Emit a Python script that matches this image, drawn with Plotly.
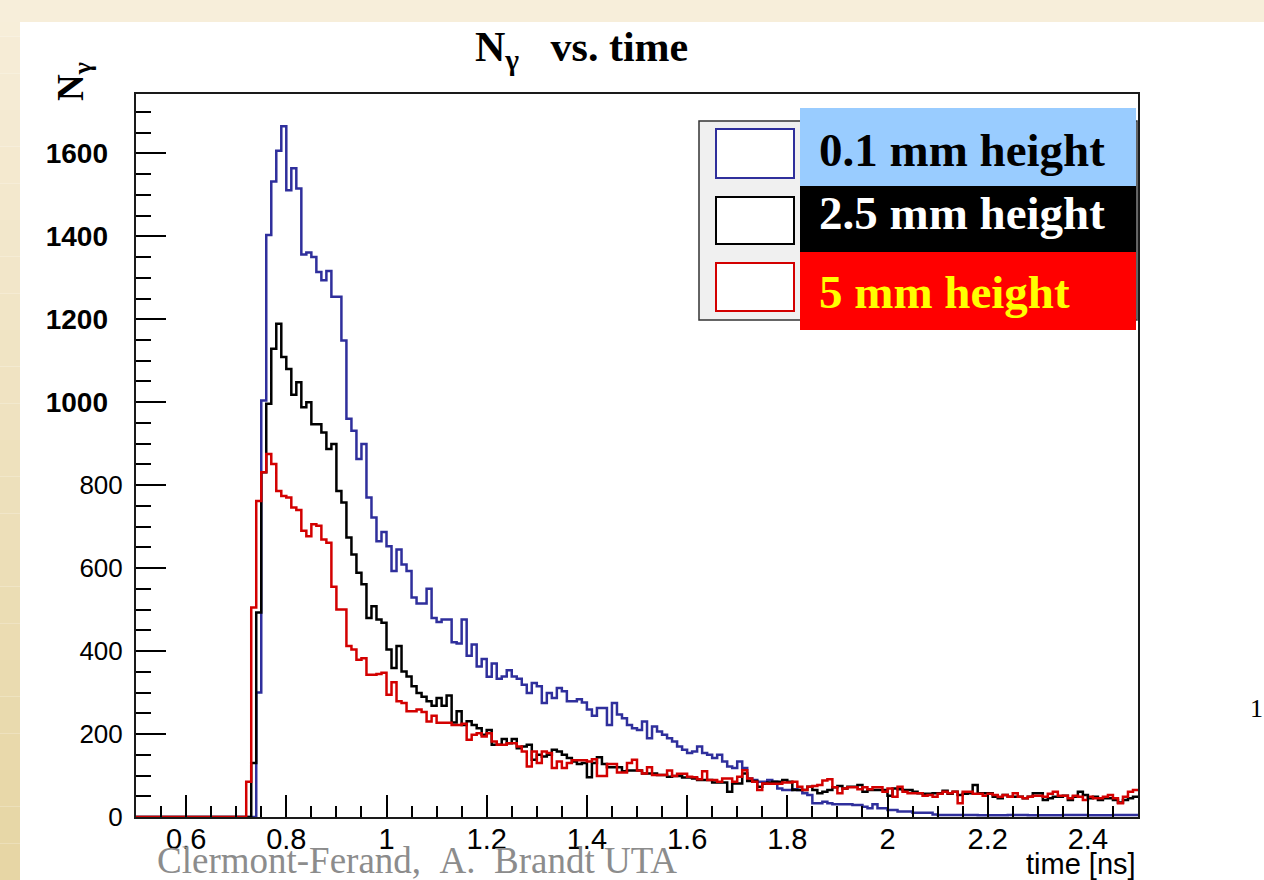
import plotly.graph_objects as go

# ---------------- data (200 bins, 0.5 .. 2.5 ns, width 0.01 ns) ----------------
bin_edges_start = 0.5
bin_width = 0.01
n_bins = 200

blue_01mm = [0] * 24 + [
    300, 1004, 1403, 1532, 1606, 1665, 1511, 1564, 1515, 1356, 1361, 1350, 1314, 1294, 1316, 1254, 1254,
    1149, 960, 931, 863, 899,
    770, 722, 665, 687, 653, 593, 645, 609, 593, 529, 515, 515, 550, 480, 470, 476, 476, 421, 418, 476,
    389, 416, 363, 381, 338, 370, 333, 339, 354, 339, 333, 319, 299, 323, 315, 275, 299, 287, 311, 303, 279,
    279, 284, 276, 259, 244, 263, 263, 222, 275, 247, 238, 222, 214, 210, 230, 190, 218, 206, 198, 190,
    182, 170, 162, 154, 158, 170, 154, 150, 142, 150, 134, 122, 118, 134, 118, 93, 89, 85, 85, 89, 85,
    69, 65, 65, 67, 65, 57, 53,
    33, 33, 37, 33, 31, 31, 31, 31, 29, 29, 25, 21, 31, 21, 21, 17, 17, 13, 13, 13, 10, 10, 10, 10, 6,
    5, 5, 5, 5, 5, 5, 5, 5, 4, 4, 4, 4, 4, 4, 5, 5, 5, 5, 4, 4, 4, 4, 4, 4, 4, 5, 5, 5, 5, 5, 4, 4, 4,
    4, 4, 5, 5, 5, 5, 5,
]

black_25mm = [0] * 23 + [
    130, 493, 831, 996, 1129, 1189, 1109, 1080, 1018, 1048, 988, 1000, 947, 947, 927, 887, 899, 786, 758,
    674, 633, 589,
    561, 480, 508, 476, 468, 404, 359, 412, 351, 339, 315, 299, 290, 279, 268, 287, 268, 293, 228, 255,
    222, 231, 222, 214, 198, 210, 174, 174, 188, 178, 188, 166, 170, 174, 138, 150, 146, 150, 162, 158,
    150, 142,
    134, 128, 130, 96, 130, 144, 128, 120, 120, 120, 110, 112, 112, 112, 105, 105, 105, 101, 101, 97,
    99, 99, 95, 95, 93, 89, 89, 89, 83, 83, 83, 61, 81, 81, 105, 87, 87, 73, 80, 83, 85, 85, 89, 85,
    65, 65, 65, 73,
    65, 57, 61, 65, 72, 75, 69, 73, 73, 77, 61, 65, 65, 65, 65, 51, 69, 67, 65, 65, 61, 57, 56, 56, 57,
    57, 63, 56, 61, 53, 56, 57, 77, 57, 57, 57, 49, 45, 53, 49, 49, 49, 45, 49, 57, 57, 41, 45, 49, 49,
    51, 41, 49, 61, 53, 45, 49, 41, 45, 45, 41, 35, 41, 45, 49,
]

red_5mm = [0] * 22 + [
    85, 505, 762, 831, 875, 851, 786, 774, 770, 746, 740, 690, 677, 706, 702, 669, 661, 555, 500, 500,
    412, 404, 379,
    383, 343, 343, 345, 348, 295, 325, 279, 275, 255, 255, 259, 253, 230, 244, 227, 227, 227, 222, 222,
    225, 186, 198, 202, 194, 202, 182, 174, 174, 178, 178, 170, 158, 122, 158, 130, 158, 154, 118, 134,
    118, 130,
    137, 137, 137, 134, 139, 99, 99, 128, 128, 107, 107, 130, 138, 112, 105, 120, 101, 101, 101, 112,
    99, 104, 104, 97, 96, 91, 110, 89, 89, 85, 93, 93, 85, 97, 113, 93, 85, 65, 81, 80, 80, 80, 83, 83,
    85, 73, 65, 73,
    75, 77, 88, 91, 72, 57, 69, 72, 72, 67, 72, 67, 72, 72, 61, 69, 49, 73, 61, 57, 57, 57, 51, 53, 49,
    56, 61, 57, 61, 33, 61, 61, 56, 56, 51, 56, 53, 49, 53, 49, 57, 49, 45, 49, 51, 51, 49, 56, 61, 51,
    51, 45, 51, 49, 41, 49, 45, 45, 49, 53, 45, 33, 49, 61, 65,
]

series_names = ["0.1 mm height", "2.5 mm height", "5 mm height"]
y_tick_values = [0, 200, 400, 600, 800, 1000, 1200, 1400, 1600]
y_regular_labels = ["0", "200", "400", "600", "800", " ", " ", " ", " "]
y_bold_values = [1000, 1200, 1400, 1600]
y_bold_labels = ["1000", "1200", "1400", "1600"]

edges = [round(bin_edges_start + i * bin_width, 4) for i in range(n_bins + 1)]

# ---------------- layout geometry (pixels) ----------------
W, H = 1264, 880
PL, PR, PT, PB = 136, 1138, 94, 817   # plot area box
pw, ph = PR - PL, PB - PT


def px(x):
    return (x - PL) / pw


def py(y):
    return (PB - y) / ph


def step_y(vals):
    return list(vals) + [vals[-1]]


fig = go.Figure()
colors = ["#2F2F9C", "#000000", "#D30000"]
for vals, name, col, yax in zip([blue_01mm, black_25mm, red_5mm], series_names, colors, ["y", "y", "y2"]):
    fig.add_trace(go.Scatter(
        x=edges, y=step_y(vals), mode="lines", line=dict(color=col, width=2.5, shape="hv"),
        name=name, showlegend=False, yaxis=yax, hoverinfo="skip",
    ))

YMAX = 1743
sans = "Liberation Sans, Arial, sans-serif"
serif = "Liberation Serif, Times New Roman, serif"

fig.update_layout(
    width=W, height=H,
    margin=dict(l=PL, r=W - PR, t=PT, b=H - PB, autoexpand=False),
    paper_bgcolor="white", plot_bgcolor="white",
    showlegend=False,
    xaxis=dict(
        range=[0.5, 2.5], showgrid=False, zeroline=False, automargin=False,
        showline=True, mirror=True, linecolor="#1a1a1a", linewidth=2,
        ticks="inside", ticklen=22, tickwidth=1.5, tickcolor="black",
        tick0=0, dtick=0.2, tickfont=dict(family=sans, size=29, color="black"),
        ticklabelstandoff=-5,
        minor=dict(ticks="inside", ticklen=11, dtick=0.05, tick0=0, tickwidth=1.5, tickcolor="black", showgrid=False),
    ),
    yaxis=dict(
        range=[0, YMAX], showgrid=False, zeroline=False, automargin=False,
        showline=True, mirror=True, linecolor="#1a1a1a", linewidth=2,
        ticks="inside", ticklen=30, tickwidth=1.5, tickcolor="black",
        tickmode="array", tickvals=y_tick_values, ticktext=y_regular_labels,
        tickfont=dict(family=sans, size=26, color="black"), ticklabelstandoff=6,
        minor=dict(ticks="inside", ticklen=15, dtick=50, tick0=0, tickwidth=1.5, tickcolor="black", showgrid=False),
    ),
    yaxis2=dict(
        range=[0, YMAX], overlaying="y", anchor="x", side="left", showgrid=False, zeroline=False,
        showline=False, ticks="", automargin=False,
        tickmode="array", tickvals=y_bold_values, ticktext=["<b>%s</b>" % t for t in y_bold_labels],
        tickfont=dict(family=sans, size=28, color="black"),
        ticklabelstandoff=27,
    ),
)

shapes = []
# slide background strips (beige) – left and top
n_sl = 24
for i in range(n_sl):
    t = i / (n_sl - 1)
    r = int(247 - 16 * t); g = int(238 - 24 * t); b = int(217 - 52 * t)
    y0 = H * i / n_sl; y1 = H * (i + 1) / n_sl
    shapes.append(dict(type="rect", xref="paper", yref="paper", x0=px(0), x1=px(20), y0=py(y1), y1=py(y0),
                       fillcolor="rgb(%d,%d,%d)" % (r, g, b), line=dict(width=0), layer="above"))
shapes.append(dict(type="rect", xref="paper", yref="paper", x0=px(0), x1=px(W), y0=py(22), y1=py(0),
                   fillcolor="#F7EEDA", line=dict(width=0), layer="above"))

# legend box
shapes.append(dict(type="rect", xref="paper", yref="paper", x0=px(699), x1=px(1137), y0=py(320), y1=py(121),
                   fillcolor="#F0F0F0", line=dict(color="#333333", width=1.5), layer="above"))
marker_rows = [(129, 178), (197, 244), (263, 311)]
for (ya, yb), col in zip(marker_rows, colors):
    shapes.append(dict(type="rect", xref="paper", yref="paper", x0=px(716), x1=px(794), y0=py(yb), y1=py(ya),
                       fillcolor="white", line=dict(color=col, width=2), layer="above"))
# coloured label boxes
box_rows = [(108, 186, "#99CCFF"), (186, 252, "#000000"), (252, 330, "#FF0000")]
for ya, yb, fc in box_rows:
    shapes.append(dict(type="rect", xref="paper", yref="paper", x0=px(800), x1=px(1136), y0=py(yb), y1=py(ya),
                       fillcolor=fc, line=dict(width=0), layer="above"))

annotations = []
text_cols = ["#000000", "#FFFFFF", "#FFFF00"]
text_mid = [150, 213, 292]
for name, tc, ym in zip(series_names, text_cols, text_mid):
    annotations.append(dict(xref="paper", yref="paper", x=px(817), y=py(ym), xanchor="left", yanchor="middle",
                            text="<b>%s</b>" % name, showarrow=False,
                            font=dict(family=serif, size=47, color=tc)))

annotations.append(dict(xref="paper", yref="paper", x=px(473), y=py(50), xanchor="left", yanchor="middle",
                        text="<b>N<sub>γ</sub>\u00a0\u00a0\u00a0vs. time</b>", showarrow=False,
                        font=dict(family=serif, size=42, color="black")))
annotations.append(dict(xref="paper", yref="paper", x=px(73), y=py(82), xanchor="center", yanchor="middle",
                        text="<b>N<sub>γ</sub></b>", textangle=-90, showarrow=False,
                        font=dict(family=serif, size=37, color="black")))
annotations.append(dict(xref="paper", yref="paper", x=1.0, y=py(882), xanchor="right", yanchor="bottom",
                        text="time [ns]", showarrow=False,
                        font=dict(family=sans, size=29, color="black")))
annotations.append(dict(xref="paper", yref="paper", x=px(155), y=py(838), xanchor="left", yanchor="top",
                        text="Clermont-Ferand,\u00a0\u00a0A.\u00a0\u00a0Brandt UTA", showarrow=False,
                        font=dict(family=serif, size=37, color="#8C8C8C")))
annotations.append(dict(xref="paper", yref="paper", x=px(1265), y=py(708), xanchor="right", yanchor="middle",
                        text="1", showarrow=False, font=dict(family=serif, size=26, color="black")))

fig.update_layout(shapes=shapes, annotations=annotations)
fig.write_html("out.html")
